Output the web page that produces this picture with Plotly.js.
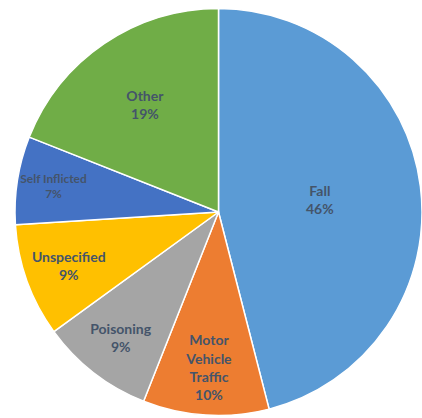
<!DOCTYPE html>
<html>
<head>
<meta charset="utf-8">
<script src="https://cdn.plot.ly/plotly-3.0.1.min.js"></script>
<style>html,body{margin:0;padding:0;background:#fff;}#chart{width:422px;height:418px;}</style>
</head>
<body>
<div id="chart"></div>
<script>
const categories = ["Fall", "Motor Vehicle Traffic", "Poisoning", "Unspecified", "Self Inflicted", "Other"];
const displayLabels = ["Fall", "Motor<br>Vehicle<br>Traffic", "Poisoning", "Unspecified", "Self Inflicted", "Other"];
const percentages = [46, 10, 9, 9, 7, 19];
const sliceColors = ["#5B9BD5", "#ED7D31", "#A5A5A5", "#FFC000", "#4472C4", "#70AD47"];

Plotly.newPlot("chart", [{
  type: "pie",
  labels: categories,
  values: percentages,
  text: displayLabels,
  texttemplate: "%{text}<br>%{value}%",
  textinfo: "text",
  textposition: "inside",
  insidetextorientation: "horizontal",
  sort: false,
  direction: "clockwise",
  rotation: 0,
  marker: {colors: sliceColors, line: {color: "#ffffff", width: 1.5}},
  insidetextfont: {family: "Lato, Carlito, Liberation Sans, sans-serif", size: 14, color: "#44546A", weight: "bold"},
  hoverinfo: "none"
}], {
  width: 422, height: 418,
  margin: {l: 15, r: 0, t: 6, b: 0},
  showlegend: false,
  paper_bgcolor: "#ffffff"
}, {displayModeBar: false, staticPlot: true});
</script>
</body>
</html>
